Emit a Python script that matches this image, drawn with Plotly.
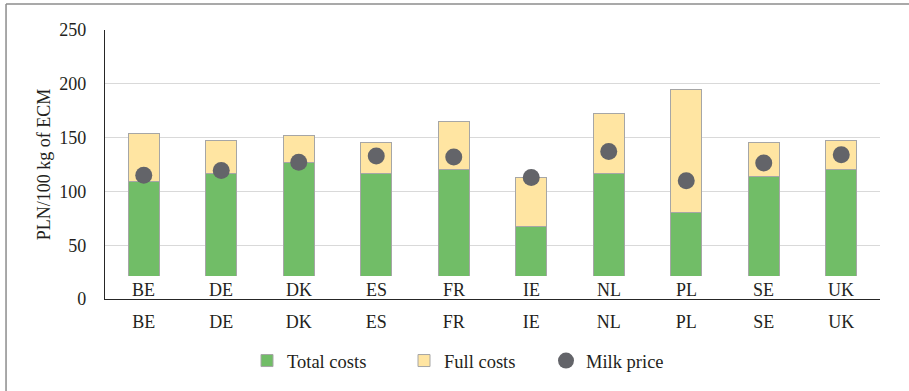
import plotly.graph_objects as go

# Cost structure and milk price by country, PLN per 100 kg of ECM
countries = ["BE", "DE", "DK", "ES", "FR", "IE", "NL", "PL", "SE", "UK"]
total_costs = [109, 117, 127, 117, 120.5, 67.5, 117, 80.5, 113.5, 120]
full_costs = [154, 147, 152, 145, 165, 113, 172, 194.5, 145, 147.5]
milk_price = [115, 119.5, 127, 133, 132, 113, 137, 110, 126.5, 134]

# portion of the full costs on top of total costs
extra_costs = [f - t for f, t in zip(full_costs, total_costs)]

FONT = "Liberation Serif, Times New Roman, serif"
TXT = "#231f20"
OUTLINE = "#a6a6a6"

fig = go.Figure()
fig.add_trace(go.Bar(
    x=countries, y=total_costs, name="Total costs",
    marker=dict(color="#71bd67", line=dict(color=OUTLINE, width=1)),
    width=0.4, legend="legend",
))
fig.add_trace(go.Bar(
    x=countries, y=extra_costs, name="Full costs",
    marker=dict(color="#ffe5a2", line=dict(color=OUTLINE, width=1)),
    width=0.4, legend="legend2",
))
fig.add_trace(go.Scatter(
    x=countries, y=milk_price, name="Milk price", mode="markers",
    marker=dict(color="#636469", size=17, line=dict(width=0)),
    legend="legend3",
))

# white band over the base of the columns carrying the inner country row
fig.add_shape(type="rect", xref="x", yref="y", x0=-0.345, x1=9.345,
              y0=-3, y1=21.3, fillcolor="white", line=dict(width=0),
              layer="above")
for c in countries:
    fig.add_annotation(x=c, y=8.3, xref="x", yref="y", text=c,
                       showarrow=False, font=dict(family=FONT, size=18, color=TXT))

# outer frame (top and left edges)
fig.add_shape(type="line", xref="paper", yref="paper", x0=-0.1277, x1=2,
              y0=1.0963, y1=1.0963, line=dict(color="#8c8c8c", width=1.5))
fig.add_shape(type="line", xref="paper", yref="paper", x0=-0.1277, x1=-0.1277,
              y0=1.0963, y1=-1, line=dict(color="#8c8c8c", width=1.5))

legend_font = dict(family=FONT, size=18.5, color=TXT)
legend_common = dict(orientation="h", xanchor="left", y=-0.226, yanchor="middle",
                     font=legend_font, itemwidth=30, bgcolor="rgba(0,0,0,0)")

fig.update_layout(
    barmode="stack",
    width=909, height=391,
    margin=dict(l=105, r=29, t=30, b=91),
    paper_bgcolor="white", plot_bgcolor="white",
    font=dict(family=FONT, size=18, color=TXT),
    showlegend=True,
    legend=dict(x=(247 - 105) / 775, **legend_common),
    legend2=dict(x=(404 - 105) / 775, **legend_common),
    legend3=dict(x=(546 - 105) / 775, **legend_common),
)
fig.update_xaxes(
    showline=True, linecolor="#262626", linewidth=1.3,
    showgrid=False, ticks="outside", ticklen=6,
    tickcolor="rgba(0,0,0,0)", tickfont=dict(family=FONT, size=18, color=TXT),
    range=[-0.5, 9.5],
)
fig.update_yaxes(
    range=[0, 250], dtick=50, showgrid=True, gridcolor="#d9d9d9", gridwidth=1,
    showline=True, linecolor="#262626", linewidth=1.3, zeroline=False,
    ticks="outside", ticklen=14, tickcolor="rgba(0,0,0,0)",
    tickfont=dict(family=FONT, size=18, color=TXT),
    title=dict(text="PLN/100 kg of ECM", font=dict(family=FONT, size=18, color=TXT),
               standoff=3),
)

fig.write_html("out.html")
